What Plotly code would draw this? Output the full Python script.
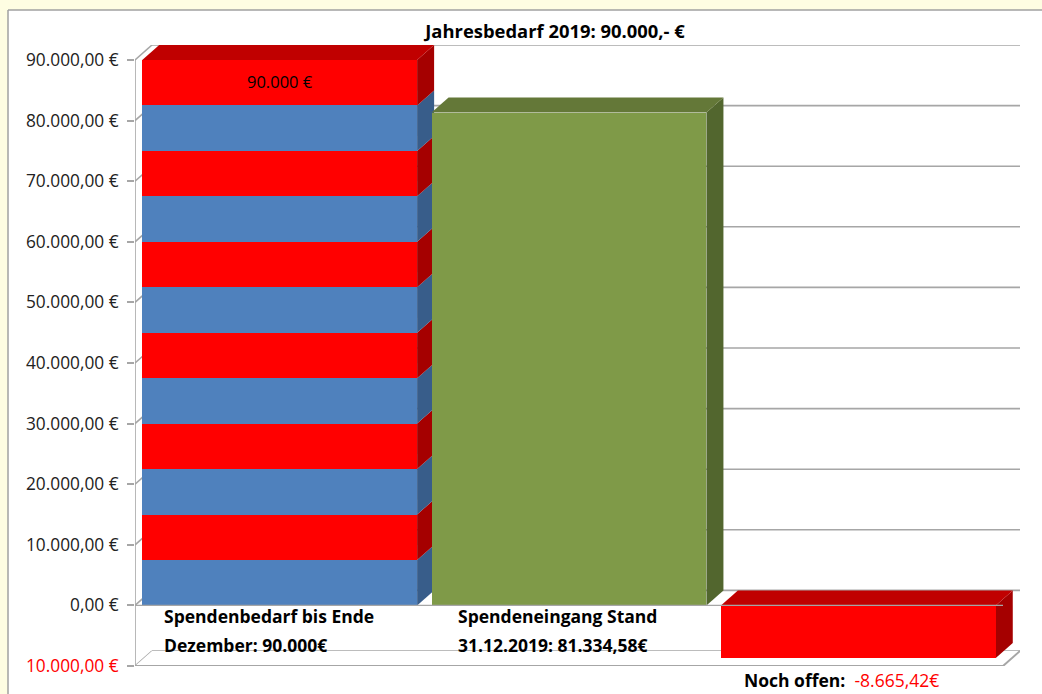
import plotly.graph_objects as go

# ---------------- data ----------------
categories = ["Spendenbedarf bis Ende", "Spendeneingang Stand", "Noch offen:"]
category_second_lines = ["Dezember: 90.000€", "31.12.2019: 81.334,58€", ""]
values = [90000.0, 81334.58, -8665.42]
open_amount_text = "-8.665,42€"
title_text = "Jahresbedarf 2019: 90.000,- €"
bar1_label = "90.000 €"
# bar 1 is painted in horizontal stripes (bottom to top)
stripe_sizes = [7500, 7500, 7500, 7500, 7500, 7500, 7500, 7500, 7500, 7500, 7500, 7500]
stripe_kinds = ["blue", "red", "blue", "red", "blue", "red", "blue", "red", "blue", "red", "blue", "red"]
tick_vals = [-10000, 0, 10000, 20000, 30000, 40000, 50000, 60000, 70000, 80000, 90000]
tick_text = ["10.000,00 €", "0,00 €", "10.000,00 €", "20.000,00 €", "30.000,00 €", "40.000,00 €",
             "50.000,00 €", "60.000,00 €", "70.000,00 €", "80.000,00 €", "90.000,00 €"]

# ---------------- styling / geometry ----------------
W, H = 1042, 694
ML, MR, MT, MB = 135, 22, 45, 28
X_UNIT_PX = 868 / 3.0              # pixels per category step
Y_UNIT_PX = 606 / 100000.0         # pixels per euro
DEPTH_PX_X, DEPTH_PX_Y = 17, 15
DX = DEPTH_PX_X / X_UNIT_PX
DY = DEPTH_PX_Y / Y_UNIT_PX
BAR_W = 0.95

plot_w = W - ML - MR
plot_h = H - MT - MB
x_min = -0.5
x_max = x_min + plot_w / X_UNIT_PX
y_min = tick_vals[0]
y_max = y_min + plot_h / Y_UNIT_PX
x_front_max = len(categories) - 0.5

FRONT = {"blue": "#4F81BD", "red": "#FF0000", "green": "#7F9A48"}
SIDE = {"blue": "#385D8A", "red": "#A50000", "green": "#52662E"}
TOP = {"blue": "#3F6797", "red": "#C00000", "green": "#647838"}
GRID = "#A6A6A6"
FONT = "Open Sans"
PAGE = "#FEFDE2"

bar_kinds = ["stripes", "green", "red"]

fig = go.Figure()
shapes = []


def poly(xs, ys, color, layer="below"):
    path = "M " + " L ".join(f"{x},{y}" for x, y in zip(xs, ys)) + " Z"
    return dict(type="path", xref="x", yref="y", path=path, fillcolor=color,
                line=dict(width=0), layer=layer)


def seg(x0, y0, x1, y1, color=GRID, width=1.6, layer="below"):
    return dict(type="line", xref="x", yref="y", x0=x0, y0=y0, x1=x1, y1=y1,
                line=dict(color=color, width=width), layer=layer)


def px_to_paper_x(px):
    return (px - ML) / plot_w


def px_to_paper_y(py):
    return 1 - (py - MT) / plot_h


# light-yellow page strips around the white chart card (left and top)
shapes.append(dict(type="rect", xref="paper", yref="paper",
                   x0=px_to_paper_x(-20), x1=px_to_paper_x(8),
                   y0=px_to_paper_y(H + 40), y1=px_to_paper_y(-20),
                   fillcolor=PAGE, line=dict(width=0), layer="below"))
shapes.append(dict(type="rect", xref="paper", yref="paper",
                   x0=px_to_paper_x(-20), x1=px_to_paper_x(W + 40),
                   y0=px_to_paper_y(10), y1=px_to_paper_y(-20),
                   fillcolor=PAGE, line=dict(width=0), layer="below"))
shapes.append(dict(type="line", xref="paper", yref="paper",
                   x0=px_to_paper_x(8), x1=px_to_paper_x(8),
                   y0=px_to_paper_y(H + 40), y1=px_to_paper_y(10),
                   line=dict(color="#A0A0A0", width=1.5), layer="below"))
shapes.append(dict(type="line", xref="paper", yref="paper",
                   x0=px_to_paper_x(8), x1=px_to_paper_x(W + 40),
                   y0=px_to_paper_y(10), y1=px_to_paper_y(10),
                   line=dict(color="#A0A0A0", width=1.5), layer="below"))

# back-wall gridlines and left-wall diagonals
for v in tick_vals:
    shapes.append(seg(x_min + DX, v + DY, x_front_max + DX, v + DY))
    shapes.append(seg(x_min, v, x_min + DX, v + DY))

# floor (at axis minimum)
shapes.append(poly([x_min, x_front_max, x_front_max + DX, x_min + DX],
                   [y_min, y_min, y_min + DY, y_min + DY], "white"))
shapes.append(seg(x_min, y_min, x_front_max, y_min, width=2))
shapes.append(seg(x_front_max, y_min, x_front_max + DX, y_min + DY, width=2))
# front vertical axis line
shapes.append(seg(x_min, y_min, x_min, tick_vals[-1], width=1.6))

# ---------------- bars ----------------
for i, v in enumerate(values):
    xl, xr = i - BAR_W / 2, i + BAR_W / 2
    kind = bar_kinds[i]
    if kind == "stripes":
        base = 0.0
        bases = []
        for s in stripe_sizes:
            bases.append(base)
            base += s
        for b, s, k in zip(bases, stripe_sizes, stripe_kinds):
            shapes.append(poly([xr, xr, xr + DX, xr + DX], [b, b + s, b + s + DY, b + DY], SIDE[k]))
        top = v
        shapes.append(poly([xl, xr, xr + DX, xl + DX], [top, top, top + DY, top + DY], TOP[stripe_kinds[-1]]))
        fig.add_trace(go.Bar(x=[i] * len(stripe_sizes), y=stripe_sizes, base=bases, width=BAR_W,
                             marker=dict(color=[FRONT[k] for k in stripe_kinds], line=dict(width=0)),
                             hoverinfo="skip", showlegend=False))
    else:
        lo, hi = min(0.0, v), max(0.0, v)
        shapes.append(poly([xr, xr, xr + DX, xr + DX], [lo, hi, hi + DY, lo + DY], SIDE[kind]))
        shapes.append(poly([xl, xr, xr + DX, xl + DX], [hi, hi, hi + DY, hi + DY], TOP[kind]))
        fig.add_trace(go.Bar(x=[i], y=[v], base=[0], width=BAR_W,
                             marker=dict(color=FRONT[kind], line=dict(width=0)),
                             hoverinfo="skip", showlegend=False))

# zero line on the front plane
shapes.append(seg(x_min, 0, x_front_max, 0, width=1.4, layer="above"))

# ---------------- texts ----------------
LABEL_SIZE = 17.5
annotations = []
annotations.append(dict(xref="x", yref="y", x=0, y=values[0], yshift=-21, text=bar1_label,
                        showarrow=False, font=dict(family=FONT, size=16.5, color="#000"),
                        xanchor="center", yanchor="middle"))
for i in range(2):
    xl = i - BAR_W / 2
    xs = 20 + (4 if i == 1 else 0)
    annotations.append(dict(xref="x", yref="y", x=xl, xshift=xs, y=0, yshift=-11,
                            text=f"<b>{categories[i]}</b>", showarrow=False,
                            font=dict(family=FONT, size=LABEL_SIZE, color="#000"),
                            xanchor="left", yanchor="middle"))
    annotations.append(dict(xref="x", yref="y", x=xl, xshift=xs, y=0, yshift=-40,
                            text=f"<b>{category_second_lines[i]}</b>", showarrow=False,
                            font=dict(family=FONT, size=LABEL_SIZE, color="#000"),
                            xanchor="left", yanchor="middle"))
annotations.append(dict(xref="x", yref="y", x=2 - BAR_W / 2, xshift=21, y=y_min, yshift=-14,
                        text=f"<b>{categories[2]}</b>&nbsp;&nbsp;<span style='color:#FF0000'>{open_amount_text}</span>",
                        showarrow=False, font=dict(family=FONT, size=LABEL_SIZE, color="#000"),
                        xanchor="left", yanchor="middle"))

ticktext_fmt = [f"<span style='color:#FF0000'>{t}</span>" if v < 0 else t for v, t in zip(tick_vals, tick_text)]

fig.update_layout(
    width=W, height=H,
    margin=dict(l=ML, r=MR, t=MT, b=MB),
    paper_bgcolor="white",
    plot_bgcolor="rgba(0,0,0,0)",
    barmode="overlay",
    bargap=0,
    showlegend=False,
    shapes=shapes,
    annotations=annotations,
    title=dict(text=f"<b>{title_text}</b>", xref="container", yref="container",
               x=555 / W, y=1 - 32 / H, xanchor="center", yanchor="middle",
               font=dict(family=FONT, size=18.4, color="#000")),
    xaxis=dict(range=[x_min, x_max], showgrid=False, zeroline=False, showticklabels=False,
               ticks="", showline=False, fixedrange=True),
    yaxis=dict(range=[y_min, y_max], tickvals=tick_vals, ticktext=ticktext_fmt,
               showgrid=False, zeroline=False, showline=False, ticks="outside", ticklen=7,
               tickcolor=GRID, tickwidth=1.5, ticklabelstandoff=5,
               tickfont=dict(family=FONT, size=17.3, color="#222")),
)

fig.write_html("out.html", config={"displayModeBar": False})
